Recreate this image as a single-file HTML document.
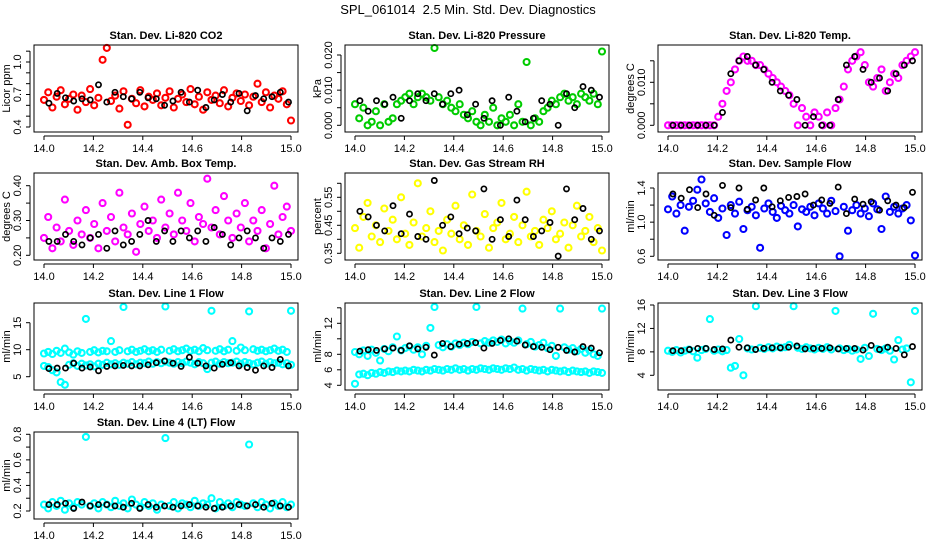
<!DOCTYPE html>
<html><head><meta charset="utf-8">
<style>
html,body{margin:0;padding:0;background:#fff;}
svg{display:block;font-family:"Liberation Sans",sans-serif;}
</style></head>
<body>
<svg id="fig" width="936" height="540" viewBox="0 0 936 540" xmlns="http://www.w3.org/2000/svg">
<rect width="936" height="540" fill="#fff"/>
<text x="468" y="14" text-anchor="middle" font-size="13" xml:space="preserve">SPL_061014  2.5 Min. Std. Dev. Diagnostics</text>
</svg>
<script>
// ---- data ----
const xTicks = [14.0,14.2,14.4,14.6,14.8,15.0];
const xTickLabels = ["14.0","14.2","14.4","14.6","14.8","15.0"];

const co2Red = [0.65,0.72,0.58,0.68,0.74,0.61,0.66,0.70,0.56,0.69,0.63,0.75,0.60,0.67,1.02,1.13,0.64,0.69,0.57,0.73,0.42,0.66,0.62,0.74,0.59,0.68,0.65,0.71,0.60,0.67,0.73,0.58,0.66,0.70,0.63,0.75,0.61,0.68,0.56,0.72,0.65,0.69,0.62,0.74,0.59,0.67,0.71,0.64,0.70,0.60,0.68,0.80,0.63,0.72,0.58,0.69,0.66,0.73,0.61,0.46];
const co2Black = [0.62,0.71,0.67,0.64,0.66,0.65,0.79,0.63,0.72,0.68,0.66,0.72,0.67,0.66,0.60,0.64,0.72,0.63,0.74,0.58,0.65,0.70,0.63,0.71,0.55,0.69,0.66,0.68,0.72,0.63];

const presGreen = [0.006,0.002,0.005,0.000,0.001,0.004,0.000,0.006,0.001,0.002,0.006,0.007,0.008,0.009,0.006,0.008,0.009,0.008,0.007,0.022,0.008,0.006,0.007,0.005,0.004,0.006,0.003,0.002,0.004,0.001,0.000,0.003,0.001,0.005,0.000,0.002,0.001,0.003,0.000,0.006,0.001,0.018,0.000,0.002,0.001,0.004,0.005,0.007,0.006,0.008,0.009,0.007,0.008,0.006,0.009,0.008,0.007,0.009,0.006,0.021];
const presBlack = [0.007,0.004,0.007,0.006,0.008,0.002,0.007,0.009,0.007,0.009,0.006,0.009,0.010,0.003,0.006,0.002,0.007,0.000,0.008,0.004,0.001,0.002,0.007,0.006,0.000,0.009,0.005,0.011,0.010,0.008];

const tempMag = [0,0,0,0,0,0,0,0,0,0,0,0,0.002,0.005,0.008,0.010,0.013,0.015,0.016,0.015,0.015,0.014,0.014,0.013,0.012,0.011,0.010,0.009,0.008,0.007,0.005,0.000,0.004,0.002,0.000,0.003,0.002,0.000,0.003,0.000,0.004,0.006,0.009,0.013,0.015,0.016,0.017,0.014,0.010,0.009,0.011,0.013,0.008,0.010,0.012,0.011,0.014,0.015,0.016,0.017];
const tempBlack = [0,0,0,0,0,0,0.003,0.012,0.015,0.016,0.014,0.013,0.010,0.008,0.007,0.006,0.000,0.002,0.000,0.000,0.006,0.014,0.016,0.013,0.010,0.011,0.008,0.012,0.014,0.015];

const ambMag = [0.25,0.31,0.22,0.28,0.24,0.36,0.27,0.23,0.30,0.26,0.33,0.25,0.29,0.22,0.35,0.27,0.31,0.24,0.38,0.28,0.26,0.32,0.21,0.29,0.34,0.27,0.30,0.25,0.36,0.28,0.32,0.26,0.38,0.30,0.27,0.35,0.24,0.31,0.29,0.42,0.28,0.33,0.26,0.37,0.30,0.25,0.32,0.28,0.35,0.24,0.30,0.27,0.33,0.22,0.29,0.40,0.26,0.31,0.34,0.27];
const ambBlack = [0.24,0.24,0.26,0.24,0.23,0.25,0.26,0.22,0.27,0.23,0.24,0.26,0.30,0.24,0.27,0.24,0.27,0.25,0.27,0.24,0.28,0.26,0.23,0.25,0.27,0.25,0.22,0.25,0.24,0.26];

const rhYellow = [0.44,0.37,0.48,0.53,0.41,0.45,0.39,0.51,0.43,0.47,0.40,0.55,0.42,0.38,0.46,0.60,0.41,0.44,0.50,0.39,0.43,0.36,0.47,0.42,0.52,0.40,0.45,0.38,0.56,0.43,0.41,0.49,0.37,0.44,0.46,0.53,0.40,0.42,0.48,0.39,0.45,0.57,0.41,0.43,0.38,0.47,0.44,0.50,0.40,0.42,0.46,0.37,0.45,0.52,0.41,0.43,0.48,0.39,0.44,0.36];
const rhBlack = [0.50,0.48,0.45,0.43,0.52,0.42,0.49,0.41,0.40,0.61,0.45,0.48,0.42,0.44,0.43,0.58,0.40,0.47,0.41,0.54,0.47,0.41,0.43,0.46,0.34,0.58,0.47,0.51,0.40,0.43];

const sampleBlue = [1.15,1.30,1.10,1.20,0.90,1.18,1.25,1.38,1.50,1.22,1.12,1.28,1.05,1.16,0.85,1.20,1.10,1.24,0.92,1.14,1.18,1.08,0.70,1.16,1.22,1.12,1.05,1.19,1.14,1.10,1.20,0.95,1.15,1.12,1.18,1.08,1.22,1.16,1.10,1.25,1.13,0.60,1.18,0.90,1.14,1.20,1.10,1.16,1.07,1.22,1.15,0.92,1.30,1.12,1.18,1.10,1.16,1.20,1.02,0.61];
const sampleBlack = [1.33,1.28,1.38,1.17,1.33,1.08,1.43,1.17,1.40,1.15,1.26,1.40,1.18,1.25,1.29,1.30,1.33,1.20,1.26,1.22,1.41,1.10,1.27,1.21,1.24,1.14,1.25,1.20,1.17,1.35];

const line1CyanHigh = [9.3,9.6,9.2,9.8,9.4,10.2,9.5,9.1,9.7,9.4,15.7,9.6,9.9,9.5,9.8,9.7,11.6,9.6,9.9,17.9,9.7,10.0,9.6,9.8,10.1,9.7,9.9,9.6,10.0,18.0,9.8,10.1,9.7,9.9,10.2,9.8,10.0,9.7,10.3,9.9,17.2,9.8,10.1,9.7,10.0,11.6,9.8,10.4,9.9,17.1,10.1,9.8,10.0,9.7,9.9,10.2,9.8,10.0,9.6,17.2];
const line1CyanLow = [7.0,6.8,6.2,5.8,4.0,3.5,7.2,7.5,7.0,7.4,7.1,7.3,6.9,7.4,7.2,7.6,7.3,7.5,7.2,7.6,7.4,7.7,7.3,7.6,7.5,7.8,7.4,7.7,7.5,7.8,7.6,7.4,7.7,7.5,7.8,7.6,7.3,7.7,7.5,6.4,7.6,7.8,7.4,7.7,7.5,7.6,7.8,7.4,7.7,7.5,7.3,7.6,7.8,7.4,7.7,7.5,7.6,7.3,7.5,7.2];
const line1Black = [6.5,6.6,6.6,7.5,6.6,6.8,6.1,6.9,7.0,7.1,7.0,7.0,7.2,7.6,7.9,7.5,6.9,8.6,7.5,7.0,6.6,7.3,7.6,7.0,6.7,6.2,7.0,6.7,8.2,7.0];

const line2CyanHigh = [8.3,8.0,8.5,7.8,8.6,8.2,7.2,8.7,8.4,8.9,10.3,8.5,8.8,9.0,8.6,8.9,8.0,9.1,11.4,14.1,9.2,8.9,9.3,9.0,9.4,9.2,9.5,9.3,9.6,14.1,9.4,9.7,9.5,9.8,9.6,9.9,9.4,9.7,9.5,9.8,13.9,9.3,9.6,9.0,9.2,9.5,8.8,9.1,7.8,13.9,8.9,8.6,8.8,8.4,8.7,8.2,8.5,8.0,7.8,13.9];
const line2CyanLow = [4.2,5.4,5.5,5.3,5.6,5.5,5.7,5.6,5.8,5.7,5.9,5.8,5.9,5.8,6.0,5.9,5.8,6.0,5.9,6.1,6.0,5.9,6.1,6.0,6.2,6.0,6.1,5.9,6.1,6.0,6.2,6.1,6.0,6.2,6.1,6.0,6.2,6.1,6.3,6.0,6.1,5.9,6.1,6.0,5.9,6.0,5.8,6.0,5.9,5.8,5.9,5.7,5.9,5.8,5.7,5.8,5.6,5.8,5.7,5.6];
const line2Black = [8.4,8.6,8.5,8.7,8.8,8.5,9.1,8.7,8.9,7.9,9.4,9.0,9.3,9.4,9.5,8.8,9.4,9.8,10.0,9.7,9.2,9.0,8.9,8.6,8.9,8.5,8.3,9.0,8.8,8.2];

const line3Cyan = [8.2,8.0,8.3,7.9,8.2,8.4,8.1,7.0,8.3,8.5,13.6,8.2,8.4,8.1,8.3,5.3,5.6,10.2,4.0,8.6,8.4,15.8,8.7,8.5,8.8,8.6,8.9,8.7,8.8,9.2,15.8,8.7,8.5,8.8,8.6,8.4,8.7,8.5,8.8,8.4,15.0,8.6,8.3,8.5,8.2,8.4,6.8,8.7,7.3,14.5,8.5,8.3,8.6,8.2,6.7,10.0,8.4,8.6,2.8,15.0];
const line3Black = [8.2,8.2,8.4,8.6,8.6,8.4,8.5,10.0,8.8,8.7,8.4,8.6,8.7,8.7,8.8,9.0,8.5,8.6,8.6,8.7,8.5,8.6,8.6,8.3,9.1,8.4,8.8,8.6,7.5,8.9];

const line4Cyan = [0.25,0.22,0.27,0.24,0.28,0.21,0.26,0.23,0.27,0.25,0.78,0.24,0.26,0.22,0.27,0.25,0.23,0.28,0.24,0.26,0.22,0.29,0.25,0.23,0.27,0.24,0.26,0.21,0.25,0.77,0.24,0.27,0.22,0.26,0.25,0.23,0.28,0.24,0.26,0.25,0.30,0.22,0.27,0.24,0.26,0.23,0.27,0.25,0.24,0.72,0.26,0.23,0.27,0.25,0.22,0.26,0.24,0.27,0.23,0.25];
const line4Black = [0.25,0.25,0.26,0.22,0.27,0.24,0.25,0.25,0.24,0.23,0.26,0.22,0.25,0.23,0.24,0.23,0.24,0.25,0.24,0.23,0.22,0.23,0.24,0.25,0.24,0.25,0.23,0.26,0.24,0.23];

const co2Ticks=[0.4,0.5,0.6,0.7,0.8,0.9,1.0,1.1], co2Labels=["0.4","","","0.7","","","1.0",""];
const presTicks=[0,0.005,0.01,0.015,0.02], presLabels=["0.000","","0.010","","0.020"];
const tempTicks=[0,0.005,0.01,0.015], tempLabels=["0.000","","0.010",""];
const ambTicks=[0.2,0.25,0.3,0.35,0.4], ambLabels=["0.20","","0.30","","0.40"];
const rhTicks=[0.35,0.4,0.45,0.5,0.55,0.6], rhLabels=["0.35","","0.45","","0.55",""];
const sampleTicks=[0.6,0.8,1.0,1.2,1.4], sampleLabels=["0.6","","1.0","","1.4"];
const l1Ticks=[5,10,15], l1Labels=["5","10","15"];
const l2Ticks=[4,6,8,10,12,14], l2Labels=["4","6","8","","12",""];
const l3Ticks=[4,8,12,16], l3Labels=["4","8","12","16"];
const l4Ticks=[0.2,0.3,0.4,0.5,0.6,0.7,0.8], l4Labels=["0.2","","0.4","","0.6","","0.8"];

// ---- layout ----
const NS="http://www.w3.org/2000/svg";
const svg=document.getElementById('fig');
const colL=[34,345,658], rowT=[45,173,303,432], W=264, H=87;
function mk(tag,attrs,parent){const e=document.createElementNS(NS,tag);for(const k in attrs)e.setAttribute(k,attrs[k]);parent.appendChild(e);return e;}

const panels=[
 {key:'co2',c:0,r:0,title:'Stan. Dev. Li-820 CO2',ylab:'Licor ppm',cal:[0.4,127,1.0,62],ticks:co2Ticks,labels:co2Labels,series:[[co2Red,'#ff0000',0],[co2Black,'#000',1]]},
 {key:'pressure',c:1,r:0,title:'Stan. Dev. Li-820 Pressure',ylab:'kPa',cal:[0,125.3,0.02,55],ticks:presTicks,labels:presLabels,series:[[presGreen,'#00cc00',0],[presBlack,'#000',1]]},
 {key:'temp',c:2,r:0,title:'Stan. Dev. Li-820 Temp.',ylab:'degrees C',cal:[0,125.3,0.01,82.3],ticks:tempTicks,labels:tempLabels,series:[[tempMag,'#ff00ff',0],[tempBlack,'#000',1]]},
 {key:'amb-box',c:0,r:1,title:'Stan. Dev. Amb. Box Temp.',ylab:'degrees C',cal:[0.2,255.3,0.4,185.7],ticks:ambTicks,labels:ambLabels,series:[[ambMag,'#ff00ff',0],[ambBlack,'#000',1]]},
 {key:'rh',c:1,r:1,title:'Stan. Dev. Gas Stream RH',ylab:'percent',cal:[0.35,253.3,0.55,197.3],ticks:rhTicks,labels:rhLabels,series:[[rhYellow,'#ffff00',0],[rhBlack,'#000',1]]},
 {key:'sample-flow',c:2,r:1,title:'Stan. Dev. Sample Flow',ylab:'ml/min',cal:[0.6,256.3,1.4,188],ticks:sampleTicks,labels:sampleLabels,series:[[sampleBlue,'#0000ff',0],[sampleBlack,'#000',1]]},
 {key:'line1',c:0,r:2,title:'Stan. Dev. Line 1 Flow',ylab:'ml/min',cal:[5,376.7,15,322.7],ticks:l1Ticks,labels:l1Labels,series:[[line1CyanHigh,'#00ffff',0],[line1CyanLow,'#00ffff',0],[line1Black,'#000',1]]},
 {key:'line2',c:1,r:2,title:'Stan. Dev. Line 2 Flow',ylab:'ml/min',cal:[4,385.3,12,323.3],ticks:l2Ticks,labels:l2Labels,series:[[line2CyanHigh,'#00ffff',0],[line2CyanLow,'#00ffff',0],[line2Black,'#000',1]]},
 {key:'line3',c:2,r:2,title:'Stan. Dev. Line 3 Flow',ylab:'ml/min',cal:[4,375.3,16,305],ticks:l3Ticks,labels:l3Labels,series:[[line3Cyan,'#00ffff',0],[line3Black,'#000',1]]},
 {key:'line4',c:0,r:3,title:'Stan. Dev. Line 4 (LT) Flow',ylab:'ml/min',cal:[0.2,511,0.8,434.3],ticks:l4Ticks,labels:l4Labels,series:[[line4Cyan,'#00ffff',0],[line4Black,'#000',1]]}
];

panels.forEach(p=>{
  const L=colL[p.c], T=rowT[p.r];
  const g=mk('g',{},svg);
  
  
  const xS=v=>L+10+(v-14)*247;
  const yS=v=>p.cal[1]+(v-p.cal[0])*(p.cal[3]-p.cal[1])/(p.cal[2]-p.cal[0]);
  p.series.forEach(([arr,col,isBlack])=>{
    const sg=mk('g',{},g);
    
    
    const n=arr.length;
    arr.forEach((v,i)=>{
      const xv=isBlack?14.02+i*(0.97/(n-1)):14+i/(n-1);
      const c=mk('circle',{cx:xS(xv).toFixed(1),cy:yS(v).toFixed(1),r:isBlack?2.6:3,fill:'none',stroke:col,'stroke-width':isBlack?1.7:2.1},sg);
      
      
    });
  });
  const box=mk('rect',{x:L,y:T,width:W,height:H,fill:'none',stroke:'#000','stroke-width':1},g);
  
  
  const tt=mk('text',{x:L+W/2,y:T-6,'text-anchor':'middle','font-size':11,'font-weight':'bold'},g);
  tt.textContent=p.title;
  
  
  const xa=mk('g',{},g);
  
  
  const B=T+H;
  mk('line',{x1:xS(14),x2:xS(15),y1:B+4,y2:B+4,stroke:'#000'},xa);
  xTicks.forEach((t,i)=>{
    mk('line',{x1:xS(t),x2:xS(t),y1:B+4,y2:B+8,stroke:'#000'},xa);
    const tx=mk('text',{x:xS(t),y:B+20,'text-anchor':'middle','font-size':11},xa);
    tx.textContent=xTickLabels[i];
    
    
  });
  const ya=mk('g',{},g);
  
  
  const ax=L-4;
  mk('line',{x1:ax,x2:ax,y1:yS(p.ticks[0]),y2:yS(p.ticks[p.ticks.length-1]),stroke:'#000'},ya);
  p.ticks.forEach((t,i)=>{
    const y=yS(t);
    mk('line',{x1:ax-4,x2:ax,y1:y,y2:y,stroke:'#000'},ya);
    if(p.labels[i]){
      const tx=mk('text',{x:0,y:0,'text-anchor':'middle','font-size':11,transform:`translate(${L-13},${y}) rotate(-90)`},ya);
      tx.textContent=p.labels[i];
      
      
    }
  });
  const yl=mk('text',{x:0,y:0,'text-anchor':'middle','font-size':11,transform:`translate(${L-24},${T+H/2}) rotate(-90)`},g);
  yl.textContent=p.ylab;
  
  
});
</script>
</body></html>
